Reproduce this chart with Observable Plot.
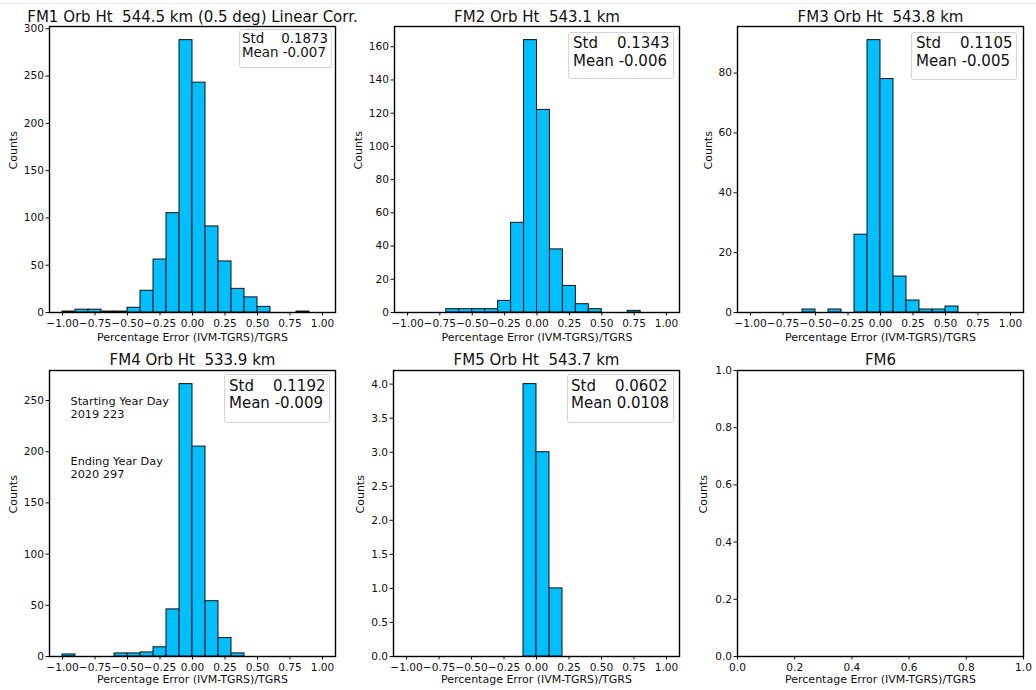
<!DOCTYPE html>
<html><head><meta charset="utf-8">
<script src="https://cdn.jsdelivr.net/npm/d3@7"></script>
<script src="https://cdn.jsdelivr.net/npm/@observablehq/plot@0.6"></script>
<style>
body{margin:0;background:#fff;font-family:"DejaVu Sans",sans-serif;}
#wrap{position:relative;width:1036px;height:690px;overflow:hidden;background:#fff;}
#topline{position:absolute;left:0;top:3px;width:1036px;height:1px;background:#ececec;}
.panel{position:absolute;}
.panel svg{display:block;}
.box{position:absolute;border:1px solid #d4d4d4;border-radius:3px;background:rgba(255,255,255,0.85);white-space:pre;color:#111;box-sizing:border-box;font-family:"DejaVu Sans",sans-serif;}
</style></head><body><div id="wrap"><div id="topline"></div></div>
<script>
// histogram bins (edges)
const binLo = [-1.0,-0.9,-0.8,-0.7,-0.6,-0.5,-0.4,-0.3,-0.2,-0.1,0.0,0.1,0.2,0.3,0.4,0.5,0.6,0.7,0.8,0.9];
const binHi = [-0.9,-0.8,-0.7,-0.6,-0.5,-0.4,-0.3,-0.2,-0.1,0.0,0.1,0.2,0.3,0.4,0.5,0.6,0.7,0.8,0.9,1.0];
// counts per bin
const fm1Counts = [1,3,3,1,1,5,23,56,105,288,243,91,54,25,16,6,0,0,1,0];
const fm2Counts = [0,0,0,2,2,2,2,7,54,164,122,38,16,5,2,0,0,1,0,0];
const fm3Counts = [0,0,0,0,1,0,1,0,26,91,78,12,4,1,1,2,0,0,0,0];
const fm4Counts = [2,0,0,0,3,3,4,9,46,266,205,54,18,3,0,0,0,0,0,0];
const fm5Counts = [0,0,0,0,0,0,0,0,0,4,3,1,0,0,0,0,0,0,0,0];
// titles & stats
const titles = ["FM1 Orb Ht  544.5 km (0.5 deg) Linear Corr.","FM2 Orb Ht  543.1 km","FM3 Orb Ht  543.8 km","FM4 Orb Ht  533.9 km","FM5 Orb Ht  543.7 km","FM6"];
const stdText = ["Std    0.1873","Std    0.1343","Std    0.1105","Std    0.1192","Std    0.0602"];
const meanText = ["Mean -0.007","Mean -0.006","Mean -0.005","Mean -0.009","Mean 0.0108"];
// ticks
const xTicks = [-1.0,-0.75,-0.5,-0.25,0,0.25,0.5,0.75,1.0];
const unitTicks = [0,0.2,0.4,0.6,0.8,1.0];
const fm1YTicks = [0,50,100,150,200,250,300];
const fm2YTicks = [0,20,40,60,80,100,120,140,160];
const fm3YTicks = [0,20,40,60,80];
const fm4YTicks = [0,50,100,150,200,250];
const fm5YTicks = [0,0.5,1.0,1.5,2.0,2.5,3.0,3.5,4.0];
const fm4Notes = ["Starting Year Day\n2019 223","Ending Year Day\n2020 297"];
const xLabel = "Percentage Error (IVM-TGRS)/TGRS";
const yLabel = "Counts";

const wrap = document.getElementById("wrap");
const f2 = d3.format(".2f"), f1 = d3.format(".1f"), f0 = d3.format("d");

function makePanel(s){
  const div = document.createElement("div");
  div.className = "panel";
  div.style.left = s.left+"px"; div.style.top = s.top+"px";
  div.style.width = s.w+"px"; div.style.height = s.h+"px";
  const marks = [];
  if (s.counts) {
    const rows = binLo.map((lo,i)=>({x1:lo,x2:binHi[i],y:s.counts[i]})).filter(d=>d.y>0);
    marks.push(Plot.rectY(rows,{x1:"x1",x2:"x2",y1:0,y2:"y",fill:"#00BFFF",stroke:"#111",strokeWidth:1,inset:0}));
  }
  marks.push(Plot.frame({stroke:"#000",strokeWidth:1.4}));
  marks.push(Plot.text([s.title],{frameAnchor:"top",dy:s.titleDy,lineAnchor:"bottom",fontSize:15,fill:"#111",text:d=>d}));
  marks.push(Plot.text([yLabel],{frameAnchor:"left",dx:s.yLabDx,rotate:-90,fontSize:11,fill:"#111",text:d=>d}));
  marks.push(Plot.text([xLabel],{frameAnchor:"bottom",dy:s.xLabDy,lineAnchor:"middle",fontSize:11,fill:"#111",text:d=>d}));
  if (s.notes) {
    marks.push(Plot.text([s.notes[0]],{frameAnchor:"top-left",dx:21,dy:26,textAnchor:"start",lineAnchor:"top",lineHeight:1.09,fontSize:11.3,fill:"#111",text:d=>d}));
    marks.push(Plot.text([s.notes[1]],{frameAnchor:"top-left",dx:21,dy:86,textAnchor:"start",lineAnchor:"top",lineHeight:1.09,fontSize:11.3,fill:"#111",text:d=>d}));
  }
  const svg = Plot.plot({
    width:s.w, height:s.h,
    marginLeft:s.mL, marginRight:s.mR, marginTop:s.mT, marginBottom:s.mB,
    style:{fontFamily:"DejaVu Sans, sans-serif",fontSize:"10.6px",color:"#111",background:"transparent",overflow:"visible",whiteSpace:"pre"},
    x:{domain:s.xDomain,ticks:s.xTicks,tickFormat:s.xFmt,tickSize:3.5,tickPadding:3,label:null},
    y:{domain:[0,s.yMax],ticks:s.yTicks,tickFormat:s.yFmt,tickSize:3.5,tickPadding:2,label:null},
    marks
  });
  div.appendChild(svg);
  if (s.box) {
    const b = document.createElement("div");
    b.className = "box";
    const bx = s.box;
    b.style.left = bx.l+"px"; b.style.top = bx.t+"px"; b.style.width = bx.w+"px"; b.style.height = bx.h+"px";
    b.style.fontSize = bx.fs+"px"; b.style.lineHeight = bx.lh+"px";
    b.style.padding = bx.pt+"px 0 0 "+bx.pl+"px";
    b.textContent = stdText[s.idx]+"\n"+meanText[s.idx];
    div.appendChild(b);
  }
  wrap.appendChild(div);
}

const maxOf = c => d3.max(c)*1.05;

makePanel({idx:0,left:0,top:0,w:345,h:345,mL:49,mR:10,mT:26,mB:33,title:titles[0],titleDy:-4.5,yLabDx:-36,xLabDy:24.5,
  counts:fm1Counts,xDomain:[-1.1,1.1],xTicks,xFmt:f2,yMax:maxOf(fm1Counts),yTicks:fm1YTicks,yFmt:f0,
  box:{l:239,t:29,w:93,h:39,fs:13.4,lh:14,pt:2,pl:2}});
makePanel({idx:1,left:345,top:0,w:345,h:345,mL:49,mR:11,mT:26,mB:33,title:titles[1],titleDy:-4.5,yLabDx:-36,xLabDy:24.5,
  counts:fm2Counts,xDomain:[-1.1,1.1],xTicks,xFmt:f2,yMax:maxOf(fm2Counts),yTicks:fm2YTicks,yFmt:f0,
  box:{l:223,t:32,w:106,h:47,fs:15,lh:18,pt:1,pl:4}});
makePanel({idx:2,left:690,top:0,w:346,h:345,mL:47,mR:13,mT:26,mB:33,title:titles[2],titleDy:-4.5,yLabDx:-29,xLabDy:24.5,
  counts:fm3Counts,xDomain:[-1.1,1.1],xTicks,xFmt:f2,yMax:maxOf(fm3Counts),yTicks:fm3YTicks,yFmt:f0,
  box:{l:221,t:32,w:106,h:48,fs:15,lh:18,pt:1,pl:4}});
makePanel({idx:3,left:0,top:345,w:345,h:345,mL:49,mR:10,mT:25,mB:34,title:titles[3],titleDy:-5.5,yLabDx:-36,xLabDy:23,
  counts:fm4Counts,xDomain:[-1.1,1.1],xTicks,xFmt:f2,yMax:maxOf(fm4Counts),yTicks:fm4YTicks,yFmt:f0,notes:fm4Notes,
  box:{l:224,t:29,w:106,h:49,fs:15,lh:17,pt:3,pl:4}});
makePanel({idx:4,left:345,top:345,w:345,h:345,mL:48,mR:11,mT:25,mB:34,title:titles[4],titleDy:-5.5,yLabDx:-33,xLabDy:23,
  counts:fm5Counts,xDomain:[-1.1,1.1],xTicks,xFmt:f2,yMax:maxOf(fm5Counts),yTicks:fm5YTicks,yFmt:f1,
  box:{l:222,t:29,w:107,h:49,fs:15,lh:17,pt:3,pl:3}});
makePanel({idx:5,left:690,top:345,w:346,h:345,mL:47,mR:13,mT:25,mB:34,title:titles[5],titleDy:-5.5,yLabDx:-34,xLabDy:23,
  counts:null,xDomain:[0,1],xTicks:unitTicks,xFmt:f1,yMax:1,yTicks:unitTicks,yFmt:f1});
</script></body></html>
